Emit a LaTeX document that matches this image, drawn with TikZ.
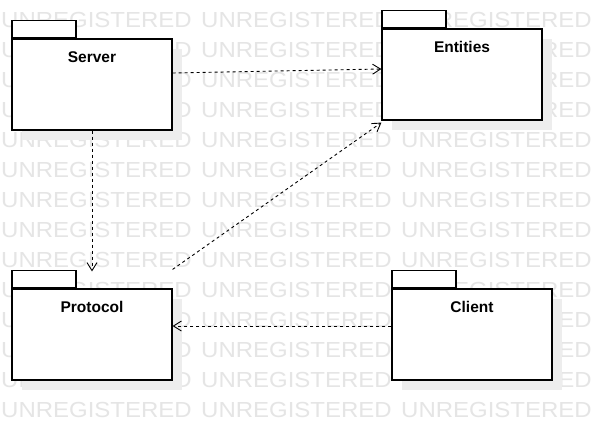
\documentclass[tikz,border=0pt]{standalone}
\usepackage{fontspec}
\setmainfont{Liberation Sans}
\usetikzlibrary{positioning,arrows.meta}

\tikzset{
  pkg/.style={draw=black,line width=1.2pt,fill=white,minimum width=160pt,minimum height=91pt,inner sep=0pt},
  pkgtab/.style={draw=black,line width=1.2pt,fill=white,minimum width=64pt,minimum height=17pt,inner sep=0pt},
  shade/.style={fill=black!7,draw=none,minimum width=160pt,minimum height=91pt,inner sep=0pt},
  dep/.style={dashed,dash pattern=on 3pt off 3pt,line width=0.9pt,-{Straight Barb[length=8pt,width=10pt,line width=0.9pt]}},
  wm/.style={text=black!10,font=\fontsize{21.8}{22}\selectfont,inner sep=0pt,anchor=west}
}

\begin{document}
\begin{tikzpicture}[x=1pt,y=-1pt]
\useasboundingbox (0,0) rectangle (602,431);
\fill[white] (0,0) rectangle (602,431);

% watermark
\foreach \r in {0,...,13}
  \foreach \c in {0,1,2,3}
    \node[wm] (wm-\r-\c) at (1+200*\c,20+30*\r) {\scalebox{1.1}[1]{UNREGISTERED}};

% shadows
\node[shade] (s1) at (102,94.5) {};
\node[shade] (s2) at (472,84.5) {};
\node[shade] (s3) at (102,344.5) {};
\node[shade] (s4) at (482,344.5) {};

% packages
\node[pkg] (server) at (92,84.5) {};
\node[pkg] (entities) at (462,74.5) {};
\node[pkg] (protocol) at (92,334.5) {};
\node[pkg] (client) at (472,334.5) {};

\node[pkgtab,above right=0pt of server.north west] (servertab) {};
\node[pkgtab,above right=0pt of entities.north west] (entitiestab) {};
\node[pkgtab,above right=0pt of protocol.north west] (protocoltab) {};
\node[pkgtab,above right=0pt of client.north west] (clienttab) {};

\node[font=\bfseries\fontsize{15.5}{16}\selectfont] (serverlbl) at (92,57) {Server};
\node[font=\bfseries\fontsize{15.5}{16}\selectfont] (entitieslbl) at (462,47) {Entities};
\node[font=\bfseries\fontsize{15.5}{16}\selectfont] (protocollbl) at (92,307) {Protocol};
\node[font=\bfseries\fontsize{15.5}{16}\selectfont] (clientlbl) at (472,307) {Client};

% dependencies
\draw[dep] ([yshift=11.5pt]server.east) -- ([yshift=5.5pt]entities.west);
\draw[dep] (server.south) -- ([yshift=17pt]protocol.north);
\draw[dep] ([yshift=19pt]protocol.north east) -- ([yshift=-2pt]entities.south west);
\draw[dep] ([yshift=8.5pt]client.west) -- ([yshift=8.5pt]protocol.east);
\end{tikzpicture}
\end{document}
